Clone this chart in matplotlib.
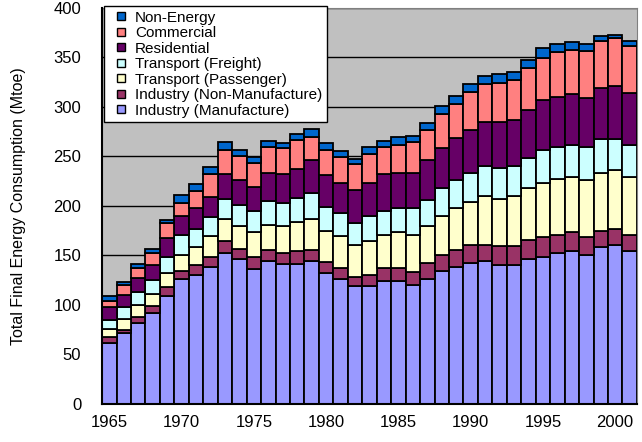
import numpy as np
import matplotlib.pyplot as plt
from matplotlib.lines import Line2D

plt.rcParams["font.family"] = ["Liberation Sans", "DejaVu Sans"]

years = np.arange(1965, 2002)

# values per sector (Mtoe)
manufacture = [61.5, 71.6, 82.3, 91.8, 109.4, 126.3, 130.6, 138.4, 152.6, 146.8,
               136.7, 144.5, 141.0, 141.0, 144.3, 132.4, 126.3, 118.8, 118.8, 124.6,
               124.6, 120.5, 126.6, 134.7, 138.4, 142.5, 144.8, 140.8, 140.8, 146.5,
               148.5, 152.6, 154.9, 150.9, 158.7, 160.3, 154.9]
non_manufacture = [6.0, 3.4, 5.5, 7.4, 8.4, 7.7, 9.4, 9.8, 11.8, 9.8,
                   11.5, 11.5, 11.6, 13.2, 11.7, 11.1, 11.1, 9.1, 11.1, 12.8,
                   12.8, 12.5, 15.9, 15.4, 16.9, 18.5, 16.2, 18.5, 18.5, 18.9,
                   20.3, 17.9, 18.6, 17.9, 16.5, 16.6, 15.6]
passenger = [8.1, 10.7, 12.5, 11.8, 14.6, 16.9, 18.3, 21.2, 22.9, 23.0,
             25.3, 25.0, 27.0, 29.4, 31.3, 31.0, 32.0, 33.1, 35.2, 33.7,
             36.1, 37.5, 37.1, 39.6, 42.6, 42.9, 48.9, 48.0, 50.6, 52.3,
             54.7, 57.0, 56.1, 57.0, 58.4, 59.1, 59.1]
freight = [9.4, 12.3, 12.4, 14.6, 16.2, 20.1, 18.6, 19.6, 20.0, 21.6,
           21.9, 24.3, 23.6, 24.3, 26.1, 24.7, 23.6, 22.0, 24.6, 24.3,
           24.0, 27.0, 26.0, 28.0, 27.9, 29.7, 30.4, 31.4, 30.4, 30.4,
           32.7, 32.4, 32.0, 34.1, 34.5, 32.1, 32.0]
residential = [13.0, 12.4, 14.6, 15.2, 18.8, 18.7, 21.3, 20.3, 24.6, 24.6,
               24.0, 28.3, 29.0, 29.7, 32.8, 32.4, 30.5, 33.0, 33.8, 36.5,
               36.1, 36.1, 40.4, 40.5, 42.9, 42.9, 44.6, 46.2, 46.6, 48.6,
               50.9, 50.6, 51.3, 49.0, 50.6, 52.6, 53.0]
commercial = [6.0, 10.1, 10.1, 11.8, 14.9, 13.5, 16.8, 22.6, 24.3, 24.6,
              24.3, 26.4, 26.0, 29.0, 23.8, 24.6, 26.3, 26.0, 28.7, 28.1,
              28.0, 31.0, 30.5, 34.5, 34.1, 38.8, 38.1, 38.8, 40.2, 42.5,
              41.9, 44.6, 44.6, 47.2, 47.6, 48.6, 46.6]
non_energy = [4.7, 2.7, 4.4, 4.4, 4.0, 7.4, 6.8, 7.4, 8.4, 5.8,
              6.1, 6.0, 5.8, 6.1, 8.2, 7.8, 5.7, 5.8, 7.4, 5.6,
              8.1, 6.1, 7.8, 8.6, 8.4, 7.7, 8.4, 9.5, 8.4, 8.1,
              10.2, 8.4, 7.7, 7.4, 5.6, 3.4, 5.7]

series = [
    ("Industry (Manufacture)", manufacture, "#9999ff"),
    ("Industry (Non-Manufacture)", non_manufacture, "#993366"),
    ("Transport (Passenger)", passenger, "#ffffcc"),
    ("Transport (Freight)", freight, "#ccffff"),
    ("Residential", residential, "#660066"),
    ("Commercial", commercial, "#ff8080"),
    ("Non-Energy", non_energy, "#0066cc"),
]

fig = plt.figure(figsize=(6.42, 4.42), dpi=100)
ax = fig.add_axes([0.159, 0.086, 0.833, 0.896])
ax.set_facecolor("#c0c0c0")

bottom = np.zeros(len(years))
handles = []
for label, vals, color in series:
    vals = np.array(vals)
    ax.bar(years, vals, width=1.0, bottom=bottom, color=color,
           edgecolor="black", linewidth=1.3, zorder=3)
    handles.append(Line2D([], [], linestyle="none", marker="s", markersize=6,
                          markerfacecolor=color, markeredgecolor="black",
                          markeredgewidth=1.0))
    bottom += vals

ax.set_xlim(1964.5, 2001.5)
ax.set_ylim(0, 400)
ax.set_yticks(np.arange(0, 401, 50))
ax.set_xticks(np.arange(1965, 2001, 5))
ax.tick_params(length=0, labelsize=12)
ax.tick_params(axis="y", pad=15)
ax.tick_params(axis="x", pad=8)
ax.yaxis.grid(True, color="black", linewidth=1.0, zorder=1)
ax.set_axisbelow(True)
for s in ["top", "right"]:
    ax.spines[s].set_color("#808080")
for s in ["left", "bottom"]:
    ax.spines[s].set_linewidth(1.5)
    ax.spines[s].set_zorder(4)
ax.set_ylabel("Total Final Energy Consumption (Mtoe)", fontsize=11.5, labelpad=20)

leg = ax.legend(handles[::-1], [s[0] for s in series][::-1], loc="upper left",
                bbox_to_anchor=(0.004, 1.005), fontsize=11, frameon=True,
                fancybox=False, handlelength=1.6, handletextpad=0.1,
                labelspacing=0.1, borderpad=0.3, borderaxespad=0.0)
leg.get_frame().set_edgecolor("black")
leg.get_frame().set_linewidth(1.0)
leg.get_frame().set_alpha(1.0)
leg.set_zorder(5)

fig.savefig("out.png", dpi=100)
